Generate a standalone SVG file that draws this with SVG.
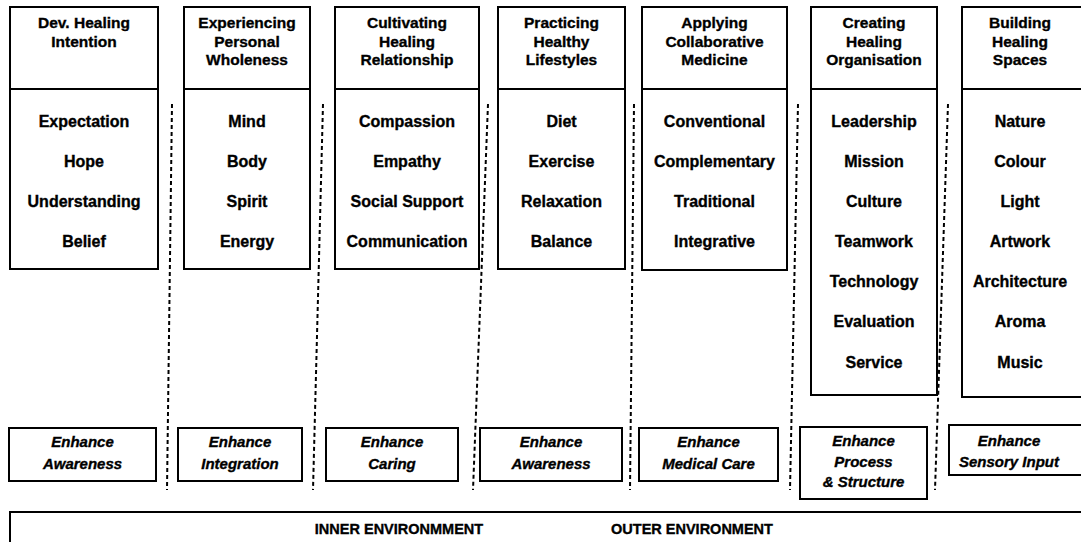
<svg xmlns="http://www.w3.org/2000/svg" width="1081" height="542" viewBox="0 0 1081 542">
<style>
.box{fill:#fff;stroke:#000;stroke-width:2}
.hd,.bd,.it,.env{font-family:"Liberation Sans",Arial,sans-serif;font-weight:bold;text-anchor:middle;fill:#000;stroke:#000;stroke-width:0.35}
.hd{font-size:15.5px}
.bd{font-size:16px}
.it{font-style:italic;font-size:15px}
.env{font-size:14.5px}
.dash{stroke:#000;stroke-width:2;stroke-dasharray:4 3;fill:none}
</style>
<rect width="1081" height="542" fill="#fff"/>
<g id="connectors">
<line class="dash" x1="172" y1="104" x2="167" y2="490"/>
<line class="dash" x1="323" y1="104" x2="313" y2="490"/>
<line class="dash" x1="488" y1="104" x2="473" y2="490"/>
<line class="dash" x1="634" y1="104" x2="630" y2="490"/>
<line class="dash" x1="798" y1="104" x2="790" y2="490"/>
<line class="dash" x1="948" y1="104" x2="935" y2="490"/>
</g>
<g id="col1">
<rect class="box" x="10" y="7" width="148" height="82"/>
<text class="hd" x="84" y="28">Dev. Healing</text>
<text class="hd" x="84" y="47">Intention</text>
<rect class="box" x="10" y="89" width="148" height="180"/>
<text class="bd" x="84" y="127">Expectation</text>
<text class="bd" x="84" y="167">Hope</text>
<text class="bd" x="84" y="207">Understanding</text>
<text class="bd" x="84" y="247">Belief</text>
</g>
<g id="col2">
<rect class="box" x="184" y="7" width="126" height="82"/>
<text class="hd" x="247" y="28">Experiencing</text>
<text class="hd" x="247" y="46.5">Personal</text>
<text class="hd" x="247" y="65">Wholeness</text>
<rect class="box" x="184" y="89" width="126" height="180"/>
<text class="bd" x="247" y="127">Mind</text>
<text class="bd" x="247" y="167">Body</text>
<text class="bd" x="247" y="207">Spirit</text>
<text class="bd" x="247" y="247">Energy</text>
</g>
<g id="col3">
<rect class="box" x="335" y="7" width="144" height="82"/>
<text class="hd" x="407" y="28">Cultivating</text>
<text class="hd" x="407" y="46.5">Healing</text>
<text class="hd" x="407" y="65">Relationship</text>
<rect class="box" x="335" y="89" width="144" height="180"/>
<text class="bd" x="407" y="127">Compassion</text>
<text class="bd" x="407" y="167">Empathy</text>
<text class="bd" x="407" y="207">Social Support</text>
<text class="bd" x="407" y="247">Communication</text>
</g>
<g id="col4">
<rect class="box" x="498" y="7" width="127" height="82"/>
<text class="hd" x="561.5" y="28">Practicing</text>
<text class="hd" x="561.5" y="46.5">Healthy</text>
<text class="hd" x="561.5" y="65">Lifestyles</text>
<rect class="box" x="498" y="89" width="127" height="180"/>
<text class="bd" x="561.5" y="127">Diet</text>
<text class="bd" x="561.5" y="167">Exercise</text>
<text class="bd" x="561.5" y="207">Relaxation</text>
<text class="bd" x="561.5" y="247">Balance</text>
</g>
<g id="col5">
<rect class="box" x="642" y="7" width="145" height="82"/>
<text class="hd" x="714.5" y="28">Applying</text>
<text class="hd" x="714.5" y="46.5">Collaborative</text>
<text class="hd" x="714.5" y="65">Medicine</text>
<rect class="box" x="642" y="89" width="145" height="181"/>
<text class="bd" x="714.5" y="127">Conventional</text>
<text class="bd" x="714.5" y="167">Complementary</text>
<text class="bd" x="714.5" y="207">Traditional</text>
<text class="bd" x="714.5" y="247">Integrative</text>
</g>
<g id="col6">
<rect class="box" x="811" y="7" width="126" height="82"/>
<text class="hd" x="874" y="28">Creating</text>
<text class="hd" x="874" y="46.5">Healing</text>
<text class="hd" x="874" y="65">Organisation</text>
<rect class="box" x="811" y="89" width="126" height="306"/>
<text class="bd" x="874" y="127">Leadership</text>
<text class="bd" x="874" y="167">Mission</text>
<text class="bd" x="874" y="207">Culture</text>
<text class="bd" x="874" y="247">Teamwork</text>
<text class="bd" x="874" y="287">Technology</text>
<text class="bd" x="874" y="327">Evaluation</text>
<text class="bd" x="874" y="368">Service</text>
</g>
<g id="col7">
<rect class="box" x="962" y="7" width="124" height="82"/>
<text class="hd" x="1020" y="28">Building</text>
<text class="hd" x="1020" y="46.5">Healing</text>
<text class="hd" x="1020" y="65">Spaces</text>
<rect class="box" x="962" y="89" width="124" height="308"/>
<text class="bd" x="1020" y="127">Nature</text>
<text class="bd" x="1020" y="167">Colour</text>
<text class="bd" x="1020" y="207">Light</text>
<text class="bd" x="1020" y="247">Artwork</text>
<text class="bd" x="1020" y="287">Architecture</text>
<text class="bd" x="1020" y="327">Aroma</text>
<text class="bd" x="1020" y="368">Music</text>
</g>
<g id="out1">
<rect class="box" x="9" y="428" width="147" height="53"/>
<text class="it" x="82.5" y="447">Enhance</text>
<text class="it" x="82.5" y="469">Awareness</text>
</g>
<g id="out2">
<rect class="box" x="178" y="428" width="124" height="53"/>
<text class="it" x="240" y="447">Enhance</text>
<text class="it" x="240" y="469">Integration</text>
</g>
<g id="out3">
<rect class="box" x="326" y="428" width="132" height="53"/>
<text class="it" x="392" y="447">Enhance</text>
<text class="it" x="392" y="469">Caring</text>
</g>
<g id="out4">
<rect class="box" x="480" y="428" width="142" height="53"/>
<text class="it" x="551" y="447">Enhance</text>
<text class="it" x="551" y="469">Awareness</text>
</g>
<g id="out5">
<rect class="box" x="639" y="428" width="139" height="53"/>
<text class="it" x="708.5" y="447">Enhance</text>
<text class="it" x="708.5" y="469">Medical Care</text>
</g>
<g id="out6">
<rect class="box" x="800" y="427" width="127" height="72"/>
<text class="it" x="863.5" y="446">Enhance</text>
<text class="it" x="863.5" y="467">Process</text>
<text class="it" x="863.5" y="487">&amp; Structure</text>
</g>
<g id="out7">
<rect class="box" x="949" y="425" width="140" height="50"/>
<text class="it" x="1009" y="446">Enhance</text>
<text class="it" x="1009" y="467">Sensory Input</text>
</g>
<g id="environment">
<rect class="box" x="10" y="512" width="1080" height="40"/>
<text class="env" x="399" y="534">INNER ENVIRONMMENT</text>
<text class="env" x="692" y="534">OUTER ENVIRONMENT</text>
</g>
</svg>
